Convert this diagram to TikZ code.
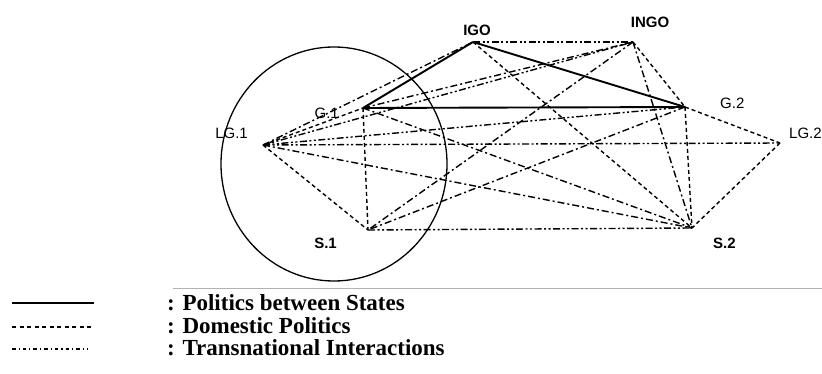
\documentclass[tikz,border=0pt]{standalone}
\usepackage{fontspec}
\setmainfont{Liberation Serif}
\newfontfamily\lblfont{Liberation Sans}
\tikzset{
	actorA/.style={
		shape=coordinate, label distance=0pt,
	},
	lblA/.style={font={\lblfont\fontsize{15}{17}\selectfont}, inner sep=1pt},
	lblB/.style={font={\lblfont\bfseries\fontsize{15}{17}\selectfont}, inner sep=1pt},
	legtext/.style={anchor=west, inner sep=0pt, font={\bfseries\fontsize{23}{25}\selectfont}},
	states/.style={draw, line width=1.9pt},
	domestic/.style={draw, line width=1.4pt, dash pattern=on 4pt off 3pt},
	transA/.style={draw, line width=1.4pt, dash pattern=on 7pt off 3pt on 2pt off 3pt},
	transB/.style={draw, line width=1.4pt, dash pattern=on 7pt off 2.5pt on 2pt off 2.5pt on 2pt off 2.5pt},
	>=stealth,
}
\begin{document}
\begin{tikzpicture}[
x=1pt, y=-1pt,
line join=round,
]
\useasboundingbox (0,0) rectangle (822,374);
% state 1
\draw [line width=1.3pt] (334,164) ellipse [x radius=113pt, y radius=117pt];
\node [actorA, label={[lblB, label distance=5pt, xshift=4pt]above:IGO}] (IGO) at (473,42) {};
\node [actorA, label={[lblB, label distance=13pt, xshift=17pt]above:INGO}] (INGO) at (633,42) {};
\node [actorA, label={[lblA, label distance=23pt, yshift=-5pt]left:G.1}] (G1) at (363,108) {};
\node [actorA, label={[lblA, label distance=34pt, yshift=4pt]right:G.2}] (G2) at (685,107) {};
\node [actorA, label={[lblA, label distance=14pt, yshift=12pt]left:LG.1}] (LG1) at (263,145) {};
\node [actorA, label={[lblA, label distance=8pt, yshift=10pt]right:LG.2}] (LG2) at (780,143) {};
\node [actorA, label={[lblB, label distance=30pt, yshift=-13pt]left:S.1}] (S1) at (368,230) {};
\node [actorA, label={[lblB, label distance=20pt, yshift=-15pt]right:S.2}] (S2) at (692,228) {};
% politics between states
\path (G1) edge [states] (G2)
      (IGO) edge [states] (G1)
      (IGO) edge [states] (G2);
% domestic
\path (LG1) edge [domestic] (G1)
      (G1) edge [domestic] (S1)
      (LG1) edge [domestic] (S1)
      (G2) edge [domestic] (LG2)
      (G2) edge [domestic] (S2)
      (LG2) edge [domestic] (S2)
      (INGO) edge [domestic] (G2)
      (IGO) edge [domestic] (S2);
% transnational
\path (IGO) edge [transB] (INGO)
      (LG1) edge [transB] (LG2)
      (S1) edge [transB] (S2)
      (LG1) edge [transB] (G2)
      (LG1) edge [transB] (INGO);
\path (LG1) edge [transA] (IGO)
      (G1) edge [transA] (INGO)
      (LG1) edge [transA] (S2)
      (G1) edge [transA] (S2)
      (INGO) edge [transA] (S1)
      (INGO) edge [transA] (S2)
      (G2) edge [transA] (S1);
% legend
\draw [gray!60, line width=0.8pt] (173,288) -- (822,288);
\draw [line width=1.8pt] (12,303) -- (94,303);
\draw [line width=1.2pt, dash pattern=on 4pt off 3.5pt] (12,327) -- (94,327);
\draw [line width=1.2pt, dash pattern=on 3.5pt off 3pt on 1.2pt off 3pt] (12,349) -- (88,349);
\node [legtext] (legS) at (167,303) {: Politics between States};
\node [legtext] (legD) at (167,326) {: Domestic Politics};
\node [legtext] (legT) at (167,348) {: Transnational Interactions};
\end{tikzpicture}
\end{document}
